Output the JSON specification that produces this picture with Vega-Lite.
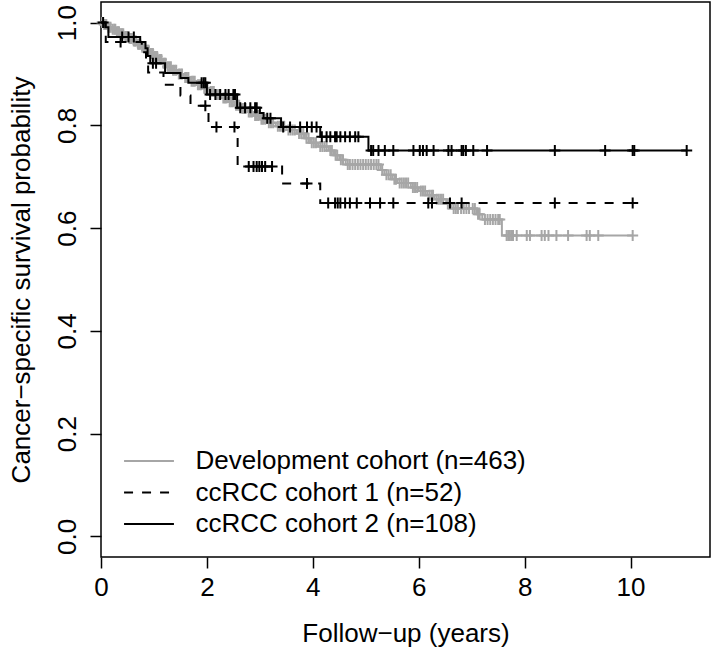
{
  "$schema": "https://vega.github.io/schema/vega-lite/v6.json",
  "width": 609,
  "height": 555,
  "autosize": {"type": "none"},
  "padding": {"left": 101, "top": 2, "right": 2, "bottom": 94},
  "background": "white",
  "config": {
    "view": {"stroke": "black", "strokeWidth": 1.5},
    "axis": {
      "domain": false, "grid": false, "tickColor": "black", "tickWidth": 1.5, "tickSize": 11,
      "labelFont": "Liberation Sans", "labelFontSize": 26, "labelColor": "black",
      "titleFont": "Liberation Sans", "titleFontSize": 26, "titleFontWeight": "normal", "titleColor": "black"
    },
    "legend": {
      "orient": "none", "legendX": 32.5, "legendY": 443.5, "padding": 0,
      "direction": "vertical", "columns": 1,
      "labelFont": "Liberation Sans", "labelFontSize": 26, "labelColor": "black", "labelLimit": 0,
      "symbolType": "M-1.72,0H1.72", "symbolSize": 841, "symbolStrokeWidth": 2,
      "labelOffset": 31, "rowPadding": 2.5
    }
  },
  "datasets": {
    "km": [
      {"c":"D","t":0,"s":1,"k":"s"},
      {"c":"D","t":0.02,"s":1,"k":"c"},
      {"c":"D","t":0.05,"s":0.996,"k":"e"},
      {"c":"D","t":0.06,"s":0.996,"k":"c"},
      {"c":"D","t":0.08,"s":0.996,"k":"c"},
      {"c":"D","t":0.10,"s":0.996,"k":"c"},
      {"c":"D","t":0.12,"s":0.991,"k":"e"},
      {"c":"D","t":0.14,"s":0.991,"k":"c"},
      {"c":"D","t":0.16,"s":0.991,"k":"c"},
      {"c":"D","t":0.18,"s":0.991,"k":"c"},
      {"c":"D","t":0.20,"s":0.987,"k":"e"},
      {"c":"D","t":0.22,"s":0.987,"k":"c"},
      {"c":"D","t":0.25,"s":0.987,"k":"c"},
      {"c":"D","t":0.27,"s":0.987,"k":"c"},
      {"c":"D","t":0.28,"s":0.982,"k":"e"},
      {"c":"D","t":0.30,"s":0.982,"k":"c"},
      {"c":"D","t":0.32,"s":0.982,"k":"c"},
      {"c":"D","t":0.34,"s":0.982,"k":"c"},
      {"c":"D","t":0.36,"s":0.978,"k":"e"},
      {"c":"D","t":0.38,"s":0.978,"k":"c"},
      {"c":"D","t":0.40,"s":0.978,"k":"c"},
      {"c":"D","t":0.42,"s":0.978,"k":"c"},
      {"c":"D","t":0.44,"s":0.973,"k":"e"},
      {"c":"D","t":0.46,"s":0.973,"k":"c"},
      {"c":"D","t":0.48,"s":0.973,"k":"c"},
      {"c":"D","t":0.50,"s":0.973,"k":"c"},
      {"c":"D","t":0.52,"s":0.969,"k":"e"},
      {"c":"D","t":0.54,"s":0.969,"k":"c"},
      {"c":"D","t":0.56,"s":0.969,"k":"c"},
      {"c":"D","t":0.58,"s":0.969,"k":"c"},
      {"c":"D","t":0.60,"s":0.964,"k":"e"},
      {"c":"D","t":0.62,"s":0.964,"k":"c"},
      {"c":"D","t":0.64,"s":0.964,"k":"c"},
      {"c":"D","t":0.66,"s":0.964,"k":"c"},
      {"c":"D","t":0.68,"s":0.958,"k":"e"},
      {"c":"D","t":0.70,"s":0.958,"k":"c"},
      {"c":"D","t":0.72,"s":0.958,"k":"c"},
      {"c":"D","t":0.74,"s":0.958,"k":"c"},
      {"c":"D","t":0.76,"s":0.952,"k":"e"},
      {"c":"D","t":0.78,"s":0.952,"k":"c"},
      {"c":"D","t":0.80,"s":0.952,"k":"c"},
      {"c":"D","t":0.82,"s":0.952,"k":"c"},
      {"c":"D","t":0.84,"s":0.946,"k":"e"},
      {"c":"D","t":0.86,"s":0.946,"k":"c"},
      {"c":"D","t":0.88,"s":0.946,"k":"c"},
      {"c":"D","t":0.90,"s":0.946,"k":"c"},
      {"c":"D","t":0.92,"s":0.940,"k":"e"},
      {"c":"D","t":0.94,"s":0.940,"k":"c"},
      {"c":"D","t":0.96,"s":0.940,"k":"c"},
      {"c":"D","t":0.98,"s":0.940,"k":"c"},
      {"c":"D","t":1.00,"s":0.934,"k":"e"},
      {"c":"D","t":1.02,"s":0.934,"k":"c"},
      {"c":"D","t":1.04,"s":0.934,"k":"c"},
      {"c":"D","t":1.06,"s":0.934,"k":"c"},
      {"c":"D","t":1.08,"s":0.928,"k":"e"},
      {"c":"D","t":1.10,"s":0.928,"k":"c"},
      {"c":"D","t":1.12,"s":0.928,"k":"c"},
      {"c":"D","t":1.14,"s":0.928,"k":"c"},
      {"c":"D","t":1.16,"s":0.921,"k":"e"},
      {"c":"D","t":1.18,"s":0.921,"k":"c"},
      {"c":"D","t":1.20,"s":0.921,"k":"c"},
      {"c":"D","t":1.22,"s":0.921,"k":"c"},
      {"c":"D","t":1.24,"s":0.914,"k":"e"},
      {"c":"D","t":1.26,"s":0.914,"k":"c"},
      {"c":"D","t":1.29,"s":0.914,"k":"c"},
      {"c":"D","t":1.32,"s":0.914,"k":"c"},
      {"c":"D","t":1.34,"s":0.907,"k":"e"},
      {"c":"D","t":1.36,"s":0.907,"k":"c"},
      {"c":"D","t":1.39,"s":0.907,"k":"c"},
      {"c":"D","t":1.42,"s":0.907,"k":"c"},
      {"c":"D","t":1.44,"s":0.900,"k":"e"},
      {"c":"D","t":1.47,"s":0.900,"k":"c"},
      {"c":"D","t":1.50,"s":0.900,"k":"c"},
      {"c":"D","t":1.53,"s":0.900,"k":"c"},
      {"c":"D","t":1.56,"s":0.893,"k":"e"},
      {"c":"D","t":1.59,"s":0.893,"k":"c"},
      {"c":"D","t":1.62,"s":0.893,"k":"c"},
      {"c":"D","t":1.65,"s":0.893,"k":"c"},
      {"c":"D","t":1.68,"s":0.886,"k":"e"},
      {"c":"D","t":1.71,"s":0.886,"k":"c"},
      {"c":"D","t":1.74,"s":0.886,"k":"c"},
      {"c":"D","t":1.77,"s":0.886,"k":"c"},
      {"c":"D","t":1.80,"s":0.879,"k":"e"},
      {"c":"D","t":1.83,"s":0.879,"k":"c"},
      {"c":"D","t":1.86,"s":0.879,"k":"c"},
      {"c":"D","t":1.89,"s":0.879,"k":"c"},
      {"c":"D","t":1.92,"s":0.872,"k":"e"},
      {"c":"D","t":1.95,"s":0.872,"k":"c"},
      {"c":"D","t":1.98,"s":0.872,"k":"c"},
      {"c":"D","t":2.01,"s":0.872,"k":"c"},
      {"c":"D","t":2.04,"s":0.866,"k":"e"},
      {"c":"D","t":2.07,"s":0.866,"k":"c"},
      {"c":"D","t":2.10,"s":0.866,"k":"c"},
      {"c":"D","t":2.13,"s":0.866,"k":"c"},
      {"c":"D","t":2.16,"s":0.860,"k":"e"},
      {"c":"D","t":2.19,"s":0.860,"k":"c"},
      {"c":"D","t":2.22,"s":0.860,"k":"c"},
      {"c":"D","t":2.25,"s":0.860,"k":"c"},
      {"c":"D","t":2.28,"s":0.853,"k":"e"},
      {"c":"D","t":2.31,"s":0.853,"k":"c"},
      {"c":"D","t":2.34,"s":0.853,"k":"c"},
      {"c":"D","t":2.37,"s":0.853,"k":"c"},
      {"c":"D","t":2.40,"s":0.846,"k":"e"},
      {"c":"D","t":2.43,"s":0.846,"k":"c"},
      {"c":"D","t":2.46,"s":0.846,"k":"c"},
      {"c":"D","t":2.49,"s":0.846,"k":"c"},
      {"c":"D","t":2.52,"s":0.839,"k":"e"},
      {"c":"D","t":2.55,"s":0.839,"k":"c"},
      {"c":"D","t":2.58,"s":0.839,"k":"c"},
      {"c":"D","t":2.61,"s":0.839,"k":"c"},
      {"c":"D","t":2.64,"s":0.833,"k":"e"},
      {"c":"D","t":2.67,"s":0.833,"k":"c"},
      {"c":"D","t":2.70,"s":0.833,"k":"c"},
      {"c":"D","t":2.73,"s":0.833,"k":"c"},
      {"c":"D","t":2.76,"s":0.826,"k":"e"},
      {"c":"D","t":2.79,"s":0.826,"k":"c"},
      {"c":"D","t":2.82,"s":0.826,"k":"c"},
      {"c":"D","t":2.85,"s":0.826,"k":"c"},
      {"c":"D","t":2.88,"s":0.819,"k":"e"},
      {"c":"D","t":2.91,"s":0.819,"k":"c"},
      {"c":"D","t":2.94,"s":0.819,"k":"c"},
      {"c":"D","t":2.97,"s":0.819,"k":"c"},
      {"c":"D","t":3.00,"s":0.812,"k":"e"},
      {"c":"D","t":3.03,"s":0.812,"k":"c"},
      {"c":"D","t":3.06,"s":0.812,"k":"c"},
      {"c":"D","t":3.10,"s":0.812,"k":"c"},
      {"c":"D","t":3.14,"s":0.805,"k":"e"},
      {"c":"D","t":3.17,"s":0.805,"k":"c"},
      {"c":"D","t":3.21,"s":0.805,"k":"c"},
      {"c":"D","t":3.25,"s":0.805,"k":"c"},
      {"c":"D","t":3.30,"s":0.798,"k":"e"},
      {"c":"D","t":3.34,"s":0.798,"k":"c"},
      {"c":"D","t":3.38,"s":0.798,"k":"c"},
      {"c":"D","t":3.42,"s":0.798,"k":"c"},
      {"c":"D","t":3.46,"s":0.798,"k":"c"},
      {"c":"D","t":3.50,"s":0.791,"k":"e"},
      {"c":"D","t":3.54,"s":0.791,"k":"c"},
      {"c":"D","t":3.58,"s":0.791,"k":"c"},
      {"c":"D","t":3.62,"s":0.791,"k":"c"},
      {"c":"D","t":3.66,"s":0.791,"k":"c"},
      {"c":"D","t":3.70,"s":0.784,"k":"e"},
      {"c":"D","t":3.74,"s":0.784,"k":"c"},
      {"c":"D","t":3.78,"s":0.784,"k":"c"},
      {"c":"D","t":3.82,"s":0.784,"k":"c"},
      {"c":"D","t":3.85,"s":0.775,"k":"e"},
      {"c":"D","t":3.88,"s":0.775,"k":"c"},
      {"c":"D","t":3.92,"s":0.775,"k":"c"},
      {"c":"D","t":3.95,"s":0.766,"k":"e"},
      {"c":"D","t":3.98,"s":0.766,"k":"c"},
      {"c":"D","t":4.02,"s":0.766,"k":"c"},
      {"c":"D","t":4.06,"s":0.766,"k":"c"},
      {"c":"D","t":4.10,"s":0.759,"k":"e"},
      {"c":"D","t":4.14,"s":0.759,"k":"c"},
      {"c":"D","t":4.18,"s":0.759,"k":"c"},
      {"c":"D","t":4.22,"s":0.759,"k":"c"},
      {"c":"D","t":4.26,"s":0.759,"k":"c"},
      {"c":"D","t":4.30,"s":0.751,"k":"e"},
      {"c":"D","t":4.33,"s":0.751,"k":"c"},
      {"c":"D","t":4.36,"s":0.751,"k":"c"},
      {"c":"D","t":4.40,"s":0.742,"k":"e"},
      {"c":"D","t":4.43,"s":0.742,"k":"c"},
      {"c":"D","t":4.46,"s":0.742,"k":"c"},
      {"c":"D","t":4.50,"s":0.733,"k":"e"},
      {"c":"D","t":4.53,"s":0.733,"k":"c"},
      {"c":"D","t":4.57,"s":0.733,"k":"c"},
      {"c":"D","t":4.62,"s":0.724,"k":"e"},
      {"c":"D","t":4.66,"s":0.724,"k":"c"},
      {"c":"D","t":4.70,"s":0.724,"k":"c"},
      {"c":"D","t":4.75,"s":0.724,"k":"c"},
      {"c":"D","t":4.80,"s":0.724,"k":"c"},
      {"c":"D","t":4.85,"s":0.724,"k":"c"},
      {"c":"D","t":4.90,"s":0.724,"k":"c"},
      {"c":"D","t":4.95,"s":0.724,"k":"c"},
      {"c":"D","t":5.00,"s":0.724,"k":"c"},
      {"c":"D","t":5.05,"s":0.724,"k":"c"},
      {"c":"D","t":5.10,"s":0.724,"k":"c"},
      {"c":"D","t":5.15,"s":0.724,"k":"c"},
      {"c":"D","t":5.20,"s":0.724,"k":"c"},
      {"c":"D","t":5.24,"s":0.724,"k":"c"},
      {"c":"D","t":5.28,"s":0.713,"k":"e"},
      {"c":"D","t":5.31,"s":0.713,"k":"c"},
      {"c":"D","t":5.35,"s":0.704,"k":"e"},
      {"c":"D","t":5.39,"s":0.704,"k":"c"},
      {"c":"D","t":5.43,"s":0.704,"k":"c"},
      {"c":"D","t":5.47,"s":0.704,"k":"c"},
      {"c":"D","t":5.50,"s":0.695,"k":"e"},
      {"c":"D","t":5.54,"s":0.695,"k":"c"},
      {"c":"D","t":5.57,"s":0.695,"k":"c"},
      {"c":"D","t":5.60,"s":0.688,"k":"e"},
      {"c":"D","t":5.64,"s":0.688,"k":"c"},
      {"c":"D","t":5.68,"s":0.688,"k":"c"},
      {"c":"D","t":5.72,"s":0.688,"k":"c"},
      {"c":"D","t":5.76,"s":0.688,"k":"c"},
      {"c":"D","t":5.80,"s":0.688,"k":"c"},
      {"c":"D","t":5.85,"s":0.679,"k":"e"},
      {"c":"D","t":5.89,"s":0.679,"k":"c"},
      {"c":"D","t":5.93,"s":0.679,"k":"c"},
      {"c":"D","t":5.97,"s":0.679,"k":"c"},
      {"c":"D","t":6.00,"s":0.672,"k":"e"},
      {"c":"D","t":6.04,"s":0.672,"k":"c"},
      {"c":"D","t":6.08,"s":0.672,"k":"c"},
      {"c":"D","t":6.12,"s":0.672,"k":"c"},
      {"c":"D","t":6.16,"s":0.664,"k":"e"},
      {"c":"D","t":6.20,"s":0.664,"k":"c"},
      {"c":"D","t":6.24,"s":0.664,"k":"c"},
      {"c":"D","t":6.27,"s":0.664,"k":"c"},
      {"c":"D","t":6.30,"s":0.656,"k":"e"},
      {"c":"D","t":6.34,"s":0.656,"k":"c"},
      {"c":"D","t":6.38,"s":0.656,"k":"c"},
      {"c":"D","t":6.42,"s":0.656,"k":"c"},
      {"c":"D","t":6.46,"s":0.656,"k":"c"},
      {"c":"D","t":6.52,"s":0.647,"k":"e"},
      {"c":"D","t":6.55,"s":0.647,"k":"c"},
      {"c":"D","t":6.58,"s":0.647,"k":"c"},
      {"c":"D","t":6.62,"s":0.638,"k":"e"},
      {"c":"D","t":6.66,"s":0.638,"k":"c"},
      {"c":"D","t":6.70,"s":0.638,"k":"c"},
      {"c":"D","t":6.74,"s":0.638,"k":"c"},
      {"c":"D","t":6.80,"s":0.638,"k":"c"},
      {"c":"D","t":6.85,"s":0.638,"k":"c"},
      {"c":"D","t":6.90,"s":0.638,"k":"c"},
      {"c":"D","t":6.95,"s":0.638,"k":"c"},
      {"c":"D","t":7.02,"s":0.638,"k":"c"},
      {"c":"D","t":7.06,"s":0.638,"k":"c"},
      {"c":"D","t":7.10,"s":0.627,"k":"e"},
      {"c":"D","t":7.12,"s":0.627,"k":"c"},
      {"c":"D","t":7.15,"s":0.627,"k":"c"},
      {"c":"D","t":7.20,"s":0.617,"k":"e"},
      {"c":"D","t":7.25,"s":0.617,"k":"c"},
      {"c":"D","t":7.30,"s":0.617,"k":"c"},
      {"c":"D","t":7.35,"s":0.617,"k":"c"},
      {"c":"D","t":7.40,"s":0.617,"k":"c"},
      {"c":"D","t":7.45,"s":0.617,"k":"c"},
      {"c":"D","t":7.50,"s":0.617,"k":"c"},
      {"c":"D","t":7.53,"s":0.617,"k":"c"},
      {"c":"D","t":7.57,"s":0.5855,"k":"e"},
      {"c":"D","t":7.66,"s":0.5855,"k":"c"},
      {"c":"D","t":7.69,"s":0.5855,"k":"c"},
      {"c":"D","t":7.72,"s":0.5855,"k":"c"},
      {"c":"D","t":7.75,"s":0.5855,"k":"c"},
      {"c":"D","t":7.78,"s":0.5855,"k":"c"},
      {"c":"D","t":7.85,"s":0.5855,"k":"c"},
      {"c":"D","t":8.04,"s":0.5855,"k":"c"},
      {"c":"D","t":8.10,"s":0.5855,"k":"c"},
      {"c":"D","t":8.32,"s":0.5855,"k":"c"},
      {"c":"D","t":8.38,"s":0.5855,"k":"c"},
      {"c":"D","t":8.45,"s":0.5855,"k":"c"},
      {"c":"D","t":8.60,"s":0.5855,"k":"c"},
      {"c":"D","t":8.82,"s":0.5855,"k":"c"},
      {"c":"D","t":9.17,"s":0.5855,"k":"c"},
      {"c":"D","t":9.23,"s":0.5855,"k":"c"},
      {"c":"D","t":9.39,"s":0.5855,"k":"c"},
      {"c":"D","t":10.04,"s":0.5855,"k":"c"},

      {"c":"C1","t":0,"s":1,"k":"s"},
      {"c":"C1","t":0.09,"s":0.962,"k":"e"},
      {"c":"C1","t":0.37,"s":0.962,"k":"c"},
      {"c":"C1","t":0.77,"s":0.942,"k":"e"},
      {"c":"C1","t":0.85,"s":0.922,"k":"e"},
      {"c":"C1","t":0.89,"s":0.903,"k":"e"},
      {"c":"C1","t":1.18,"s":0.879,"k":"e"},
      {"c":"C1","t":1.50,"s":0.858,"k":"e"},
      {"c":"C1","t":1.69,"s":0.838,"k":"e"},
      {"c":"C1","t":1.97,"s":0.838,"k":"c"},
      {"c":"C1","t":2.03,"s":0.797,"k":"e"},
      {"c":"C1","t":2.18,"s":0.797,"k":"c"},
      {"c":"C1","t":2.52,"s":0.797,"k":"c"},
      {"c":"C1","t":2.58,"s":0.720,"k":"e"},
      {"c":"C1","t":2.79,"s":0.720,"k":"c"},
      {"c":"C1","t":2.88,"s":0.720,"k":"c"},
      {"c":"C1","t":2.94,"s":0.720,"k":"c"},
      {"c":"C1","t":2.99,"s":0.720,"k":"c"},
      {"c":"C1","t":3.04,"s":0.720,"k":"c"},
      {"c":"C1","t":3.10,"s":0.720,"k":"c"},
      {"c":"C1","t":3.23,"s":0.720,"k":"c"},
      {"c":"C1","t":3.42,"s":0.687,"k":"e"},
      {"c":"C1","t":3.89,"s":0.687,"k":"c"},
      {"c":"C1","t":4.14,"s":0.649,"k":"e"},
      {"c":"C1","t":4.29,"s":0.649,"k":"c"},
      {"c":"C1","t":4.42,"s":0.649,"k":"c"},
      {"c":"C1","t":4.47,"s":0.649,"k":"c"},
      {"c":"C1","t":4.52,"s":0.649,"k":"c"},
      {"c":"C1","t":4.61,"s":0.649,"k":"c"},
      {"c":"C1","t":4.70,"s":0.649,"k":"c"},
      {"c":"C1","t":4.83,"s":0.649,"k":"c"},
      {"c":"C1","t":5.08,"s":0.649,"k":"c"},
      {"c":"C1","t":5.27,"s":0.649,"k":"c"},
      {"c":"C1","t":5.52,"s":0.649,"k":"c"},
      {"c":"C1","t":6.18,"s":0.649,"k":"c"},
      {"c":"C1","t":6.25,"s":0.649,"k":"c"},
      {"c":"C1","t":6.59,"s":0.649,"k":"c"},
      {"c":"C1","t":6.81,"s":0.649,"k":"c"},
      {"c":"C1","t":8.57,"s":0.649,"k":"c"},
      {"c":"C1","t":10.04,"s":0.649,"k":"c"},

      {"c":"C2","t":0,"s":1,"k":"s"},
      {"c":"C2","t":0.04,"s":1,"k":"c"},
      {"c":"C2","t":0.08,"s":0.991,"k":"e"},
      {"c":"C2","t":0.14,"s":0.972,"k":"e"},
      {"c":"C2","t":0.40,"s":0.972,"k":"c"},
      {"c":"C2","t":0.52,"s":0.972,"k":"c"},
      {"c":"C2","t":0.62,"s":0.972,"k":"c"},
      {"c":"C2","t":0.74,"s":0.962,"k":"e"},
      {"c":"C2","t":0.84,"s":0.950,"k":"e"},
      {"c":"C2","t":0.88,"s":0.935,"k":"e"},
      {"c":"C2","t":0.93,"s":0.921,"k":"e"},
      {"c":"C2","t":0.98,"s":0.921,"k":"c"},
      {"c":"C2","t":1.04,"s":0.921,"k":"c"},
      {"c":"C2","t":1.21,"s":0.902,"k":"e"},
      {"c":"C2","t":1.50,"s":0.892,"k":"e"},
      {"c":"C2","t":1.65,"s":0.883,"k":"e"},
      {"c":"C2","t":1.90,"s":0.883,"k":"c"},
      {"c":"C2","t":1.94,"s":0.883,"k":"c"},
      {"c":"C2","t":1.97,"s":0.883,"k":"c"},
      {"c":"C2","t":2.00,"s":0.860,"k":"e"},
      {"c":"C2","t":2.06,"s":0.860,"k":"c"},
      {"c":"C2","t":2.16,"s":0.860,"k":"c"},
      {"c":"C2","t":2.25,"s":0.860,"k":"c"},
      {"c":"C2","t":2.35,"s":0.860,"k":"c"},
      {"c":"C2","t":2.41,"s":0.860,"k":"c"},
      {"c":"C2","t":2.50,"s":0.860,"k":"c"},
      {"c":"C2","t":2.53,"s":0.860,"k":"c"},
      {"c":"C2","t":2.57,"s":0.834,"k":"e"},
      {"c":"C2","t":2.63,"s":0.834,"k":"c"},
      {"c":"C2","t":2.72,"s":0.834,"k":"c"},
      {"c":"C2","t":2.82,"s":0.834,"k":"c"},
      {"c":"C2","t":2.91,"s":0.834,"k":"c"},
      {"c":"C2","t":2.94,"s":0.834,"k":"c"},
      {"c":"C2","t":3.00,"s":0.824,"k":"e"},
      {"c":"C2","t":3.07,"s":0.814,"k":"e"},
      {"c":"C2","t":3.14,"s":0.814,"k":"c"},
      {"c":"C2","t":3.20,"s":0.814,"k":"c"},
      {"c":"C2","t":3.40,"s":0.797,"k":"e"},
      {"c":"C2","t":3.44,"s":0.797,"k":"c"},
      {"c":"C2","t":3.57,"s":0.797,"k":"c"},
      {"c":"C2","t":3.76,"s":0.797,"k":"c"},
      {"c":"C2","t":3.89,"s":0.797,"k":"c"},
      {"c":"C2","t":3.98,"s":0.797,"k":"c"},
      {"c":"C2","t":4.07,"s":0.797,"k":"c"},
      {"c":"C2","t":4.14,"s":0.778,"k":"e"},
      {"c":"C2","t":4.17,"s":0.778,"k":"c"},
      {"c":"C2","t":4.26,"s":0.778,"k":"c"},
      {"c":"C2","t":4.33,"s":0.778,"k":"c"},
      {"c":"C2","t":4.42,"s":0.778,"k":"c"},
      {"c":"C2","t":4.45,"s":0.778,"k":"c"},
      {"c":"C2","t":4.52,"s":0.778,"k":"c"},
      {"c":"C2","t":4.61,"s":0.778,"k":"c"},
      {"c":"C2","t":4.70,"s":0.778,"k":"c"},
      {"c":"C2","t":4.80,"s":0.778,"k":"c"},
      {"c":"C2","t":4.86,"s":0.778,"k":"c"},
      {"c":"C2","t":5.05,"s":0.751,"k":"e"},
      {"c":"C2","t":5.10,"s":0.751,"k":"c"},
      {"c":"C2","t":5.14,"s":0.751,"k":"c"},
      {"c":"C2","t":5.24,"s":0.751,"k":"c"},
      {"c":"C2","t":5.36,"s":0.751,"k":"c"},
      {"c":"C2","t":5.52,"s":0.751,"k":"c"},
      {"c":"C2","t":5.90,"s":0.751,"k":"c"},
      {"c":"C2","t":6.02,"s":0.751,"k":"c"},
      {"c":"C2","t":6.08,"s":0.751,"k":"c"},
      {"c":"C2","t":6.15,"s":0.751,"k":"c"},
      {"c":"C2","t":6.28,"s":0.751,"k":"c"},
      {"c":"C2","t":6.56,"s":0.751,"k":"c"},
      {"c":"C2","t":6.62,"s":0.751,"k":"c"},
      {"c":"C2","t":6.81,"s":0.751,"k":"c"},
      {"c":"C2","t":6.84,"s":0.751,"k":"c"},
      {"c":"C2","t":6.89,"s":0.751,"k":"c"},
      {"c":"C2","t":7.03,"s":0.751,"k":"c"},
      {"c":"C2","t":7.29,"s":0.751,"k":"c"},
      {"c":"C2","t":8.57,"s":0.751,"k":"c"},
      {"c":"C2","t":9.52,"s":0.751,"k":"c"},
      {"c":"C2","t":10.04,"s":0.751,"k":"c"},
      {"c":"C2","t":10.07,"s":0.751,"k":"c"},
      {"c":"C2","t":11.06,"s":0.751,"k":"c"}
    ]
  },
  "data": {"name": "km"},
  "encoding": {
    "x": {
      "field": "t", "type": "quantitative",
      "scale": {"domain": [0, 11.5], "nice": false, "zero": false},
      "axis": {"title": "Follow\u2212up (years)", "values": [0, 2, 4, 6, 8, 10], "labelFlush": false, "labelOverlap": false, "labelPadding": 6, "titlePadding": 20}
    },
    "y": {
      "field": "s", "type": "quantitative",
      "scale": {"domain": [-0.04, 1.04], "nice": false, "zero": false},
      "axis": {"title": "Cancer\u2212specific survival probability", "values": [0, 0.2, 0.4, 0.6, 0.8, 1], "format": ".1f", "labelAngle": 270, "labelAlign": "center", "labelBaseline": "alphabetic", "labelPadding": 15, "titlePadding": 20, "labelOverlap": false}
    }
  },
  "layer": [
    {
      "transform": [{"filter": "datum.c === 'D'"}],
      "mark": {"type": "line", "interpolate": "step-after", "strokeWidth": 2},
      "encoding": {
        "color": {"field": "c", "type": "nominal", "scale": {"domain": ["D", "C1", "C2"], "range": ["#a6a6a6", "#000000", "#000000"]},
          "legend": {"title": null, "labelExpr": "datum.label == 'D' ? 'Development cohort (n=463)' : datum.label == 'C1' ? 'ccRCC cohort 1 (n=52)' : 'ccRCC cohort 2 (n=108)'"}},
        "strokeDash": {"field": "c", "type": "nominal", "scale": {"domain": ["D", "C1", "C2"], "range": [[1, 0], [9, 9], [1, 0]]},
          "legend": {"title": null, "labelExpr": "datum.label == 'D' ? 'Development cohort (n=463)' : datum.label == 'C1' ? 'ccRCC cohort 1 (n=52)' : 'ccRCC cohort 2 (n=108)'"}}
      }
    },
    {
      "transform": [{"filter": "datum.c === 'D' && datum.k === 'c'"}],
      "mark": {"type": "point", "shape": "M-1,0H1M0,-1V1", "size": 121, "filled": false, "strokeWidth": 2, "color": "#a6a6a6", "opacity": 1}
    },
    {
      "transform": [{"filter": "datum.c !== 'D'"}],
      "mark": {"type": "line", "interpolate": "step-after", "strokeWidth": 2},
      "encoding": {
        "color": {"field": "c", "type": "nominal"},
        "strokeDash": {"field": "c", "type": "nominal"}
      }
    },
    {
      "transform": [{"filter": "datum.c !== 'D' && datum.k === 'c'"}],
      "mark": {"type": "point", "shape": "M-1,0H1M0,-1V1", "size": 121, "filled": false, "strokeWidth": 2, "color": "#000000", "opacity": 1}
    }
  ]
}
